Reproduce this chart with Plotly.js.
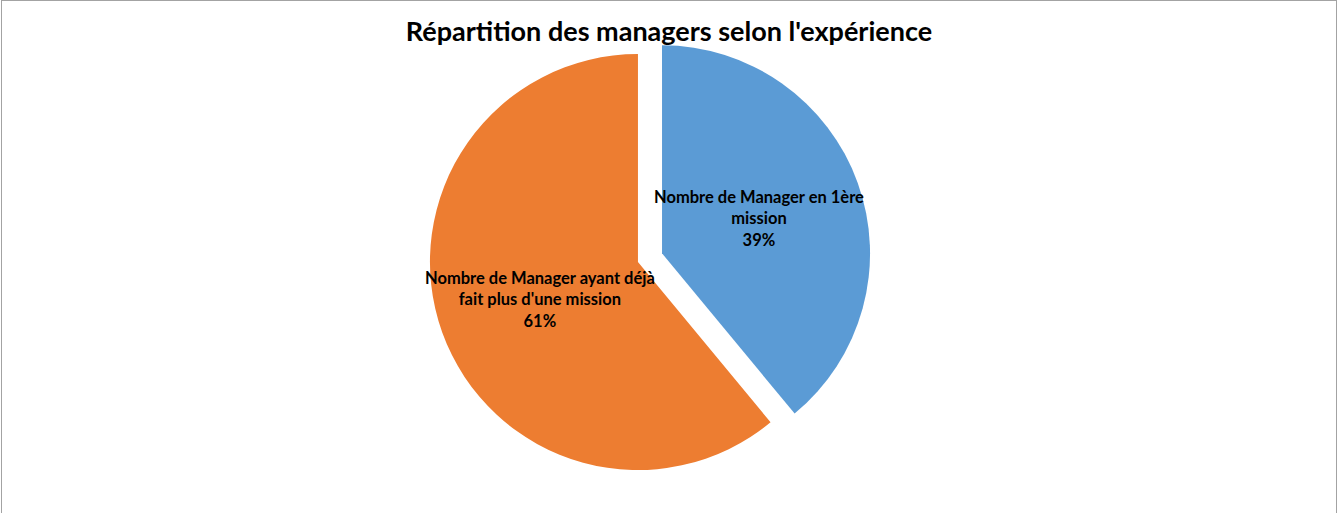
<!DOCTYPE html>
<html>
<head>
<meta charset="utf-8">
<script src="https://cdn.plot.ly/plotly-3.0.1.min.js"></script>
<style>
  html, body { margin: 0; padding: 0; background: #fff; }
  #wrap { position: relative; width: 1338px; height: 513px; }
  #chart { width: 1338px; height: 513px; }
  #frame { position: absolute; left: 1px; top: 0; width: 1334px; height: 520px;
           border: 1px solid #a3a3a3; pointer-events: none; }
</style>
</head>
<body>
<div id="wrap">
  <div id="chart"></div>
  <div id="frame"></div>
</div>
<script>
const categories = [
  "Nombre de Manager en 1ère mission",
  "Nombre de Manager ayant déjà fait plus d'une mission"
];
const displayLabels = [
  "Nombre de Manager en 1ère<br>mission",
  "Nombre de Manager ayant déjà<br>fait plus d'une mission"
];
const values = [39, 61];
const colors = ["#5B9BD5", "#ED7D31"];
const pulls = [0.123, 0];
const chartTitle = "Répartition des managers selon l'expérience";

const total = values.reduce((a, b) => a + b, 0);
const pct = values.map(v => Math.round(v / total * 100) + "%");

const font = "Lato, 'Open Sans', sans-serif";

const trace = {
  type: "pie",
  labels: categories,
  values: values,
  sort: false,
  direction: "clockwise",
  rotation: 0,
  pull: pulls,
  marker: { colors: colors, line: { width: 0 } },
  textinfo: "none",
  hoverinfo: "label+percent",
  domain: { x: [0.3022, 0.6514], y: [0.0339, 0.9446] },
  showlegend: false
};

const annPos = [
  { x: 759 / 1338, y: 1 - 219 / 513 },
  { x: 540 / 1338, y: 1 - 299 / 513 }
];

const annotations = categories.map((c, i) => ({
  xref: "paper", yref: "paper",
  x: annPos[i].x, y: annPos[i].y,
  xanchor: "center", yanchor: "middle",
  showarrow: false,
  align: "center",
  text: "<b>" + displayLabels[i] + "<br>" + pct[i] + "</b>",
  font: { family: font, size: 16.5, color: "#000" }
}));

const layout = {
  width: 1338, height: 513,
  margin: { l: 0, r: 0, t: 0, b: 0 },
  paper_bgcolor: "#fff",
  title: {
    text: "<b>" + chartTitle + "</b>",
    x: 0.5, xanchor: "center",
    y: 1 - 32 / 513, yanchor: "middle",
    font: { family: font, size: 27, color: "#000" }
  },
  annotations: annotations
};

Plotly.newPlot("chart", [trace], layout, { displayModeBar: false, staticPlot: true });
</script>
</body>
</html>
